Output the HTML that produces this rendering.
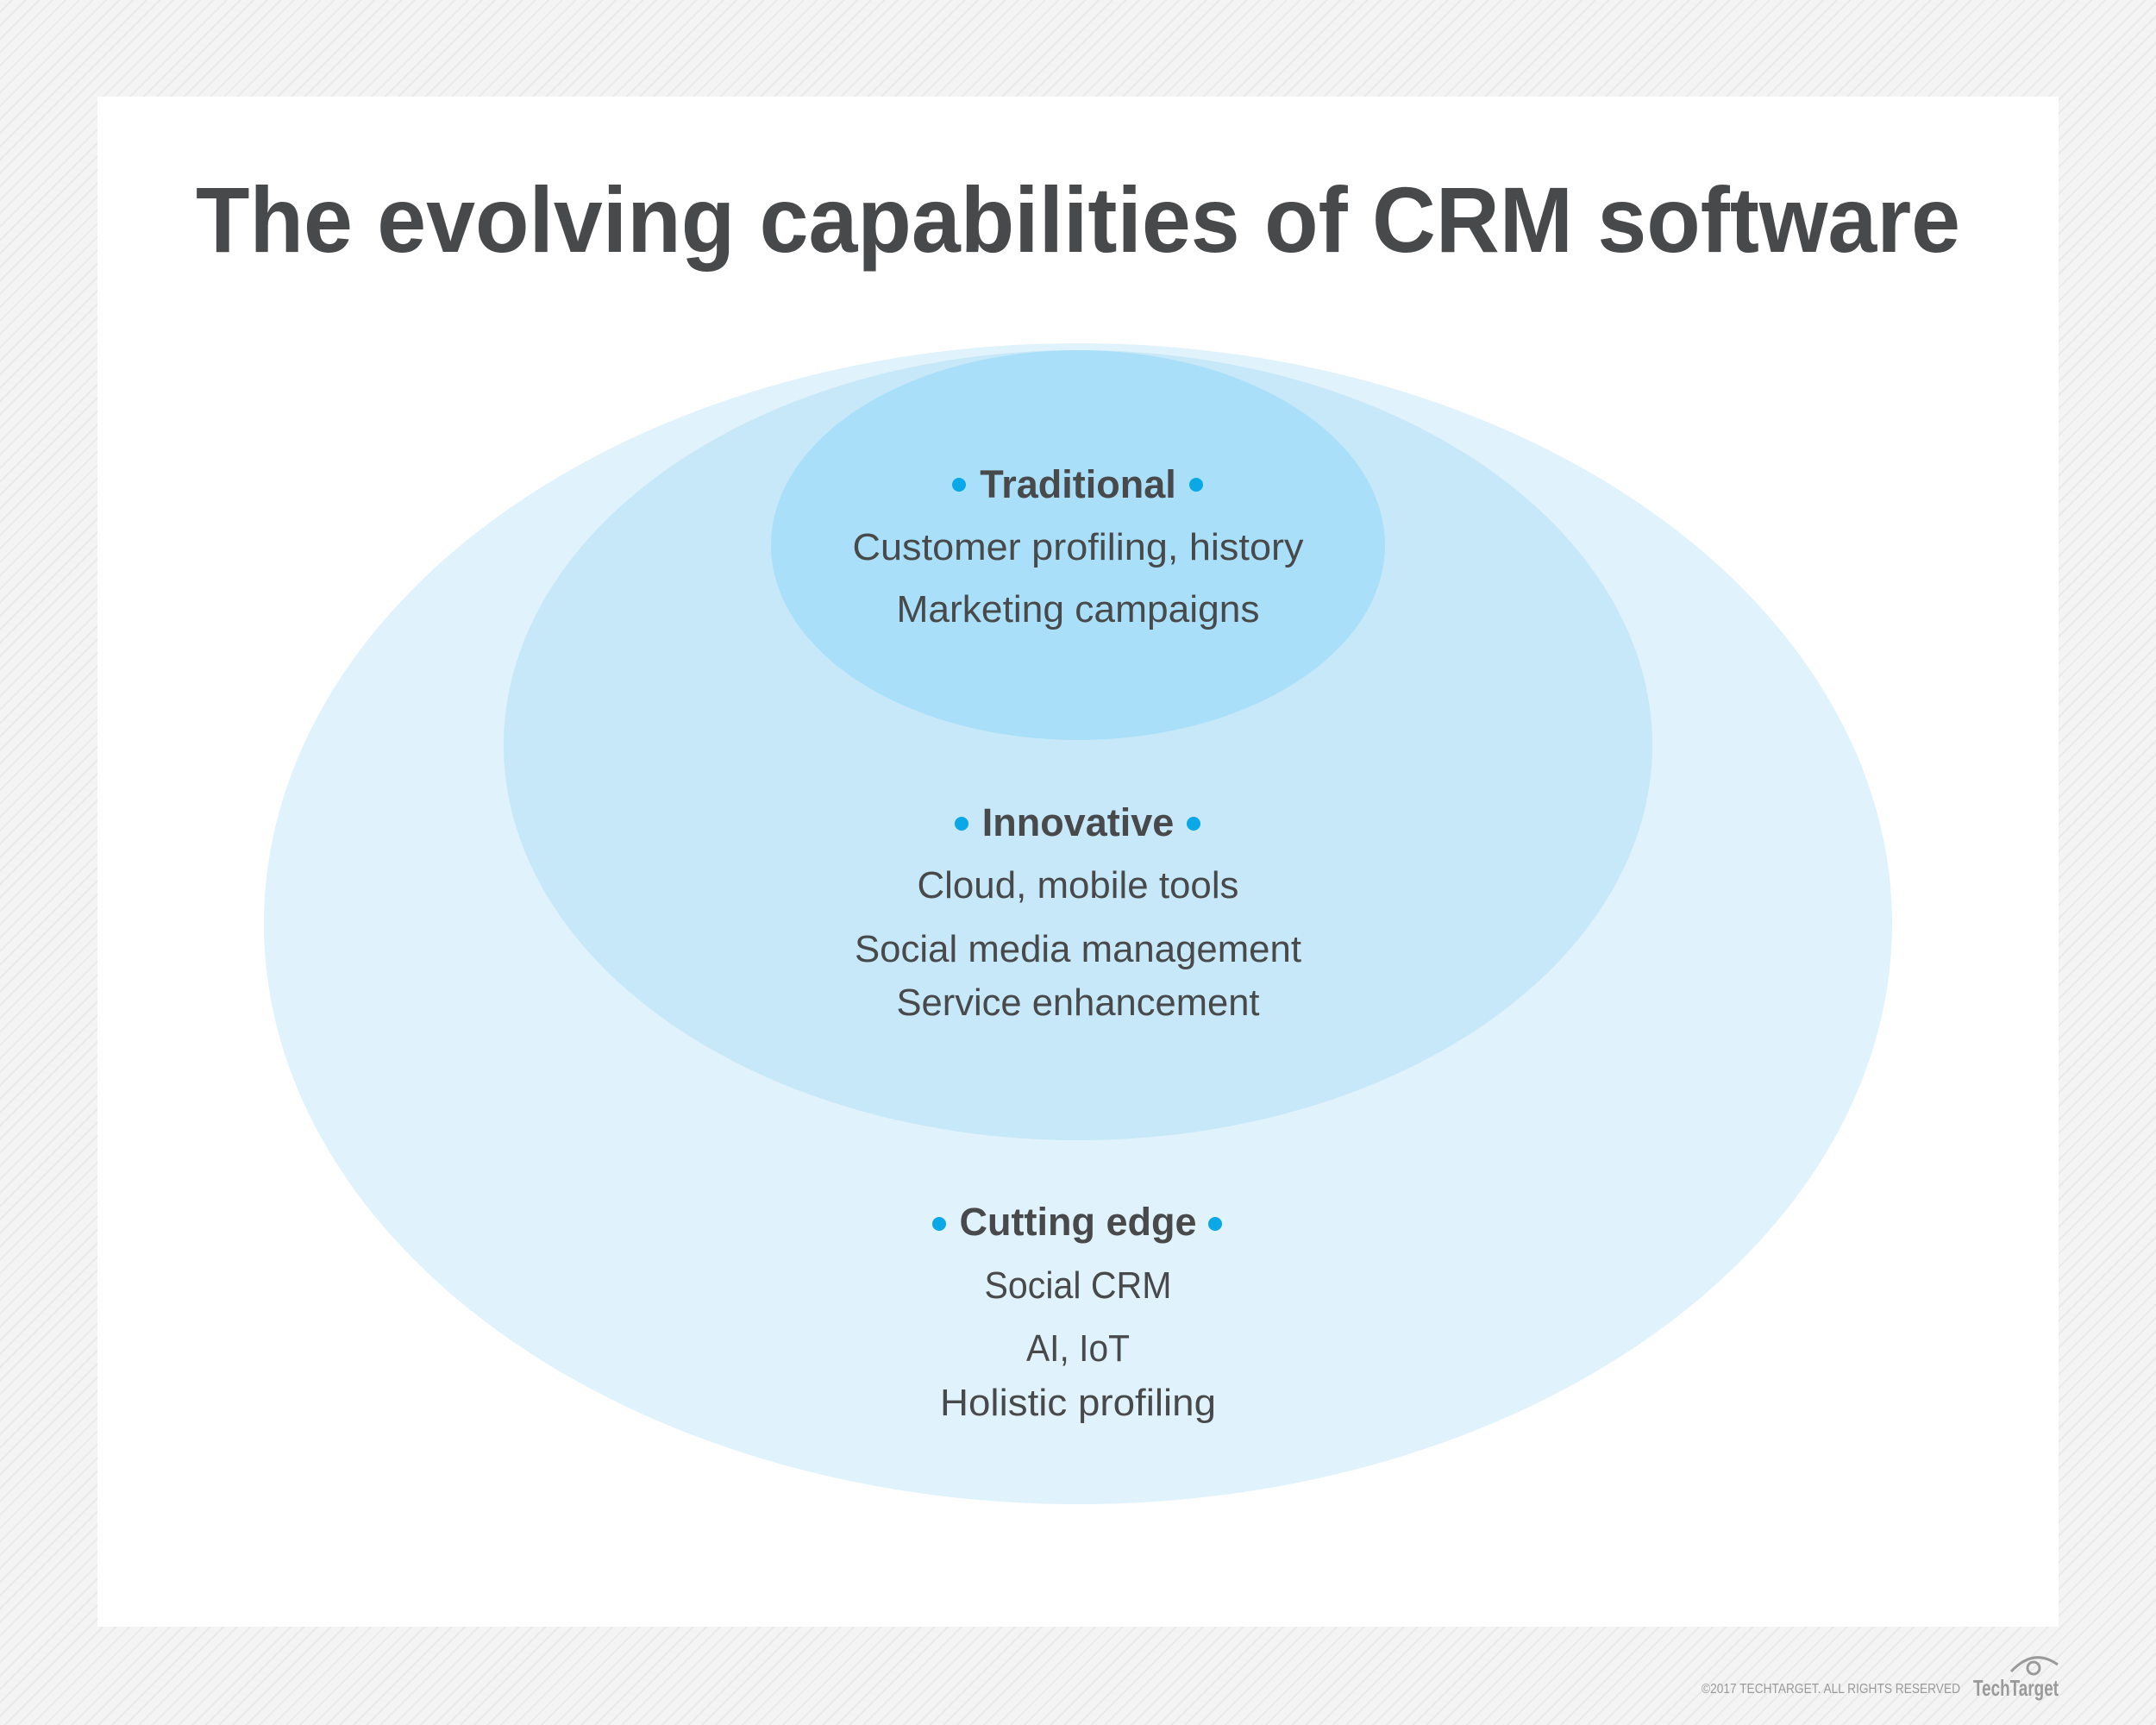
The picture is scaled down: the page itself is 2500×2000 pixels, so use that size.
<!DOCTYPE html>
<html><head><meta charset="utf-8"><style>
html,body{margin:0;padding:0}
body{width:2500px;height:2000px;overflow:hidden;background:#f1f1f1;background-image:repeating-linear-gradient(135deg,#f4f4f4 0 9px,#e9e9e9 9px 11px);}
svg{position:absolute;left:0;top:0}
</style></head><body>
<svg width="2500" height="2000" xmlns="http://www.w3.org/2000/svg" font-family="'Liberation Sans', sans-serif">
<rect x="113" y="112" width="2274" height="1774" fill="#ffffff"/>
<text x="1250" y="292" text-anchor="middle" font-size="108" font-weight="bold" fill="#48494b" textLength="2046" lengthAdjust="spacingAndGlyphs">The evolving capabilities of CRM software</text>
<ellipse cx="1250" cy="1071" rx="944" ry="673" fill="#e0f2fb"/>
<ellipse cx="1250" cy="864" rx="666" ry="458" fill="#c6e8f8"/>
<ellipse cx="1250" cy="632" rx="356" ry="226" fill="#a9dff8"/>
<g fill="#48494b" text-anchor="middle">
<text x="1250" y="577" font-size="45" font-weight="bold">Traditional</text>
<text x="1250" y="649" font-size="44" textLength="523" lengthAdjust="spacingAndGlyphs">Customer profiling, history</text>
<text x="1250" y="721" font-size="44" textLength="421" lengthAdjust="spacingAndGlyphs">Marketing campaigns</text>
<text x="1250" y="969" font-size="45" font-weight="bold">Innovative</text>
<text x="1250" y="1041" font-size="44" textLength="373" lengthAdjust="spacingAndGlyphs">Cloud, mobile tools</text>
<text x="1250" y="1115" font-size="44" textLength="518" lengthAdjust="spacingAndGlyphs">Social media management</text>
<text x="1250" y="1177" font-size="44" textLength="421" lengthAdjust="spacingAndGlyphs">Service enhancement</text>
<text x="1250" y="1432" font-size="45" font-weight="bold">Cutting edge</text>
<text x="1250" y="1505" font-size="44" textLength="217" lengthAdjust="spacingAndGlyphs">Social CRM</text>
<text x="1250" y="1578" font-size="44" textLength="120" lengthAdjust="spacingAndGlyphs">AI, IoT</text>
<text x="1250" y="1641" font-size="44" textLength="320" lengthAdjust="spacingAndGlyphs">Holistic profiling</text>
</g>
<g fill="#0aa8e6">
<circle cx="1112" cy="562" r="8"/><circle cx="1387" cy="562" r="8"/>
<circle cx="1115" cy="955" r="8"/><circle cx="1384" cy="955" r="8"/>
<circle cx="1089" cy="1419" r="8"/><circle cx="1409" cy="1419" r="8"/>
</g>
<text x="1973" y="1963" font-size="16" fill="#9a9a9a" textLength="300" lengthAdjust="spacingAndGlyphs">©2017 TECHTARGET. ALL RIGHTS RESERVED</text>
<text x="2288" y="1966" font-size="26" font-weight="bold" fill="#9a9a9a" textLength="99" lengthAdjust="spacingAndGlyphs">TechTarget</text>
<path d="M2332 1938 Q2358 1910 2386 1930" stroke="#9a9a9a" stroke-width="3" fill="none"/>
<circle cx="2358" cy="1934" r="7" stroke="#9a9a9a" stroke-width="3" fill="none"/>
</svg>
</body></html>
